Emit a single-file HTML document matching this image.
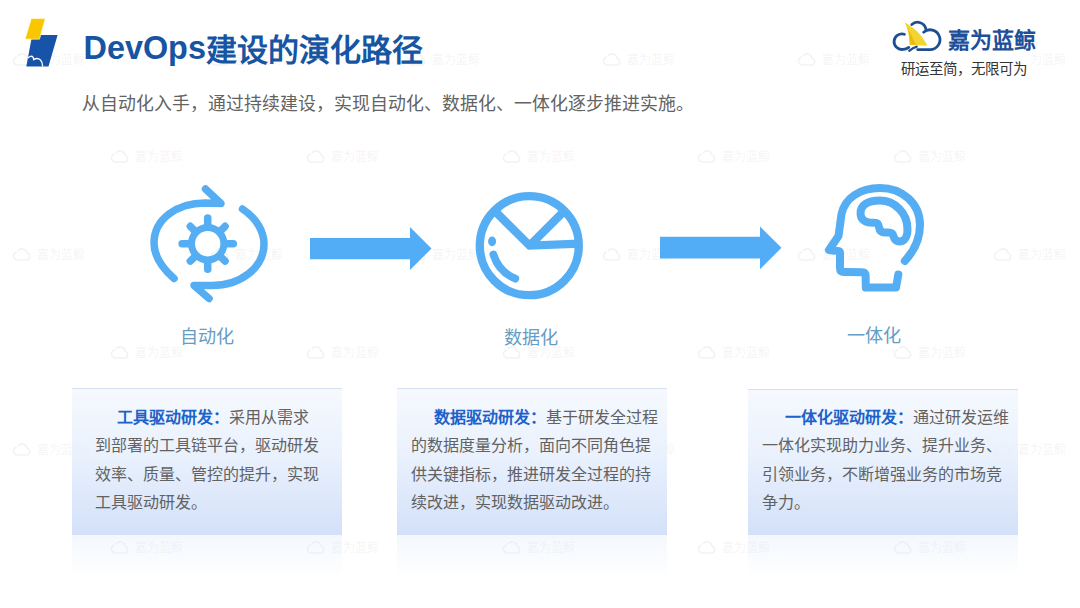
<!DOCTYPE html>
<html lang="zh-CN"><head><meta charset="utf-8">
<style>
*{margin:0;padding:0;box-sizing:border-box}
html,body{width:1080px;height:608px;overflow:hidden;background:#fff}
body{position:relative;font-family:"Liberation Sans",sans-serif}
.abs{position:absolute}
.wm{position:absolute;font-size:12px;line-height:14px;color:rgba(0,0,0,0.042);white-space:nowrap;font-weight:bold;display:flex;gap:5px;align-items:center}
.title{left:83.5px;top:28px;font-size:31px;font-weight:bold;color:#1755a3;white-space:nowrap;line-height:40px}
.sub{left:81.7px;top:92.8px;font-size:17.9px;color:#636363;white-space:nowrap;line-height:22px}
.lbl{font-size:18.1px;color:#669cc4;white-space:nowrap;line-height:20px}
.box{position:absolute;top:388px;width:270px;height:147px;border-top:1px solid rgba(215,222,230,0.45);background:linear-gradient(rgba(244,248,254,0.85),rgba(230,239,253,0.85) 45%,rgba(203,219,247,0.85))}
.box .t{position:absolute;top:15px;font-size:16px;line-height:28.3px;color:#626262;white-space:nowrap}
.box b{color:#1c62ca}
.refl{position:absolute;top:535px;width:270px;height:42px;background:linear-gradient(rgba(222,233,251,0.35),rgba(255,255,255,0))}
</style></head>
<body>
<!-- watermarks -->
<div class="wm" style="left:12px;top:52.5px"><svg width="20" height="14" viewBox="0 0 20 14"><path d="M5,4 A4,4 0 1 0 6,12 L16,12 A4,4 0 0 0 15,5 A5,5 0 0 0 6,3" fill="none" stroke="rgba(0,0,0,0.05)" stroke-width="1.6"/></svg><span>嘉为蓝鲸</span></div>
<div class="wm" style="left:210px;top:52.5px"><svg width="20" height="14" viewBox="0 0 20 14"><path d="M5,4 A4,4 0 1 0 6,12 L16,12 A4,4 0 0 0 15,5 A5,5 0 0 0 6,3" fill="none" stroke="rgba(0,0,0,0.05)" stroke-width="1.6"/></svg><span>嘉为蓝鲸</span></div>
<div class="wm" style="left:407px;top:52.5px"><svg width="20" height="14" viewBox="0 0 20 14"><path d="M5,4 A4,4 0 1 0 6,12 L16,12 A4,4 0 0 0 15,5 A5,5 0 0 0 6,3" fill="none" stroke="rgba(0,0,0,0.05)" stroke-width="1.6"/></svg><span>嘉为蓝鲸</span></div>
<div class="wm" style="left:602px;top:52.5px"><svg width="20" height="14" viewBox="0 0 20 14"><path d="M5,4 A4,4 0 1 0 6,12 L16,12 A4,4 0 0 0 15,5 A5,5 0 0 0 6,3" fill="none" stroke="rgba(0,0,0,0.05)" stroke-width="1.6"/></svg><span>嘉为蓝鲸</span></div>
<div class="wm" style="left:797px;top:52.5px"><svg width="20" height="14" viewBox="0 0 20 14"><path d="M5,4 A4,4 0 1 0 6,12 L16,12 A4,4 0 0 0 15,5 A5,5 0 0 0 6,3" fill="none" stroke="rgba(0,0,0,0.05)" stroke-width="1.6"/></svg><span>嘉为蓝鲸</span></div>
<div class="wm" style="left:993px;top:52.5px"><svg width="20" height="14" viewBox="0 0 20 14"><path d="M5,4 A4,4 0 1 0 6,12 L16,12 A4,4 0 0 0 15,5 A5,5 0 0 0 6,3" fill="none" stroke="rgba(0,0,0,0.05)" stroke-width="1.6"/></svg><span>嘉为蓝鲸</span></div>
<div class="wm" style="left:110px;top:149.5px"><svg width="20" height="14" viewBox="0 0 20 14"><path d="M5,4 A4,4 0 1 0 6,12 L16,12 A4,4 0 0 0 15,5 A5,5 0 0 0 6,3" fill="none" stroke="rgba(0,0,0,0.05)" stroke-width="1.6"/></svg><span>嘉为蓝鲸</span></div>
<div class="wm" style="left:306px;top:149.5px"><svg width="20" height="14" viewBox="0 0 20 14"><path d="M5,4 A4,4 0 1 0 6,12 L16,12 A4,4 0 0 0 15,5 A5,5 0 0 0 6,3" fill="none" stroke="rgba(0,0,0,0.05)" stroke-width="1.6"/></svg><span>嘉为蓝鲸</span></div>
<div class="wm" style="left:502px;top:149.5px"><svg width="20" height="14" viewBox="0 0 20 14"><path d="M5,4 A4,4 0 1 0 6,12 L16,12 A4,4 0 0 0 15,5 A5,5 0 0 0 6,3" fill="none" stroke="rgba(0,0,0,0.05)" stroke-width="1.6"/></svg><span>嘉为蓝鲸</span></div>
<div class="wm" style="left:697px;top:149.5px"><svg width="20" height="14" viewBox="0 0 20 14"><path d="M5,4 A4,4 0 1 0 6,12 L16,12 A4,4 0 0 0 15,5 A5,5 0 0 0 6,3" fill="none" stroke="rgba(0,0,0,0.05)" stroke-width="1.6"/></svg><span>嘉为蓝鲸</span></div>
<div class="wm" style="left:893px;top:149.5px"><svg width="20" height="14" viewBox="0 0 20 14"><path d="M5,4 A4,4 0 1 0 6,12 L16,12 A4,4 0 0 0 15,5 A5,5 0 0 0 6,3" fill="none" stroke="rgba(0,0,0,0.05)" stroke-width="1.6"/></svg><span>嘉为蓝鲸</span></div>
<div class="wm" style="left:12px;top:247.5px"><svg width="20" height="14" viewBox="0 0 20 14"><path d="M5,4 A4,4 0 1 0 6,12 L16,12 A4,4 0 0 0 15,5 A5,5 0 0 0 6,3" fill="none" stroke="rgba(0,0,0,0.05)" stroke-width="1.6"/></svg><span>嘉为蓝鲸</span></div>
<div class="wm" style="left:210px;top:247.5px"><svg width="20" height="14" viewBox="0 0 20 14"><path d="M5,4 A4,4 0 1 0 6,12 L16,12 A4,4 0 0 0 15,5 A5,5 0 0 0 6,3" fill="none" stroke="rgba(0,0,0,0.05)" stroke-width="1.6"/></svg><span>嘉为蓝鲸</span></div>
<div class="wm" style="left:407px;top:247.5px"><svg width="20" height="14" viewBox="0 0 20 14"><path d="M5,4 A4,4 0 1 0 6,12 L16,12 A4,4 0 0 0 15,5 A5,5 0 0 0 6,3" fill="none" stroke="rgba(0,0,0,0.05)" stroke-width="1.6"/></svg><span>嘉为蓝鲸</span></div>
<div class="wm" style="left:602px;top:247.5px"><svg width="20" height="14" viewBox="0 0 20 14"><path d="M5,4 A4,4 0 1 0 6,12 L16,12 A4,4 0 0 0 15,5 A5,5 0 0 0 6,3" fill="none" stroke="rgba(0,0,0,0.05)" stroke-width="1.6"/></svg><span>嘉为蓝鲸</span></div>
<div class="wm" style="left:797px;top:247.5px"><svg width="20" height="14" viewBox="0 0 20 14"><path d="M5,4 A4,4 0 1 0 6,12 L16,12 A4,4 0 0 0 15,5 A5,5 0 0 0 6,3" fill="none" stroke="rgba(0,0,0,0.05)" stroke-width="1.6"/></svg><span>嘉为蓝鲸</span></div>
<div class="wm" style="left:993px;top:247.5px"><svg width="20" height="14" viewBox="0 0 20 14"><path d="M5,4 A4,4 0 1 0 6,12 L16,12 A4,4 0 0 0 15,5 A5,5 0 0 0 6,3" fill="none" stroke="rgba(0,0,0,0.05)" stroke-width="1.6"/></svg><span>嘉为蓝鲸</span></div>
<div class="wm" style="left:110px;top:345.5px"><svg width="20" height="14" viewBox="0 0 20 14"><path d="M5,4 A4,4 0 1 0 6,12 L16,12 A4,4 0 0 0 15,5 A5,5 0 0 0 6,3" fill="none" stroke="rgba(0,0,0,0.05)" stroke-width="1.6"/></svg><span>嘉为蓝鲸</span></div>
<div class="wm" style="left:306px;top:345.5px"><svg width="20" height="14" viewBox="0 0 20 14"><path d="M5,4 A4,4 0 1 0 6,12 L16,12 A4,4 0 0 0 15,5 A5,5 0 0 0 6,3" fill="none" stroke="rgba(0,0,0,0.05)" stroke-width="1.6"/></svg><span>嘉为蓝鲸</span></div>
<div class="wm" style="left:502px;top:345.5px"><svg width="20" height="14" viewBox="0 0 20 14"><path d="M5,4 A4,4 0 1 0 6,12 L16,12 A4,4 0 0 0 15,5 A5,5 0 0 0 6,3" fill="none" stroke="rgba(0,0,0,0.05)" stroke-width="1.6"/></svg><span>嘉为蓝鲸</span></div>
<div class="wm" style="left:697px;top:345.5px"><svg width="20" height="14" viewBox="0 0 20 14"><path d="M5,4 A4,4 0 1 0 6,12 L16,12 A4,4 0 0 0 15,5 A5,5 0 0 0 6,3" fill="none" stroke="rgba(0,0,0,0.05)" stroke-width="1.6"/></svg><span>嘉为蓝鲸</span></div>
<div class="wm" style="left:893px;top:345.5px"><svg width="20" height="14" viewBox="0 0 20 14"><path d="M5,4 A4,4 0 1 0 6,12 L16,12 A4,4 0 0 0 15,5 A5,5 0 0 0 6,3" fill="none" stroke="rgba(0,0,0,0.05)" stroke-width="1.6"/></svg><span>嘉为蓝鲸</span></div>
<div class="wm" style="left:12px;top:442.5px"><svg width="20" height="14" viewBox="0 0 20 14"><path d="M5,4 A4,4 0 1 0 6,12 L16,12 A4,4 0 0 0 15,5 A5,5 0 0 0 6,3" fill="none" stroke="rgba(0,0,0,0.05)" stroke-width="1.6"/></svg><span>嘉为蓝鲸</span></div>
<div class="wm" style="left:210px;top:442.5px"><svg width="20" height="14" viewBox="0 0 20 14"><path d="M5,4 A4,4 0 1 0 6,12 L16,12 A4,4 0 0 0 15,5 A5,5 0 0 0 6,3" fill="none" stroke="rgba(0,0,0,0.05)" stroke-width="1.6"/></svg><span>嘉为蓝鲸</span></div>
<div class="wm" style="left:407px;top:442.5px"><svg width="20" height="14" viewBox="0 0 20 14"><path d="M5,4 A4,4 0 1 0 6,12 L16,12 A4,4 0 0 0 15,5 A5,5 0 0 0 6,3" fill="none" stroke="rgba(0,0,0,0.05)" stroke-width="1.6"/></svg><span>嘉为蓝鲸</span></div>
<div class="wm" style="left:602px;top:442.5px"><svg width="20" height="14" viewBox="0 0 20 14"><path d="M5,4 A4,4 0 1 0 6,12 L16,12 A4,4 0 0 0 15,5 A5,5 0 0 0 6,3" fill="none" stroke="rgba(0,0,0,0.05)" stroke-width="1.6"/></svg><span>嘉为蓝鲸</span></div>
<div class="wm" style="left:797px;top:442.5px"><svg width="20" height="14" viewBox="0 0 20 14"><path d="M5,4 A4,4 0 1 0 6,12 L16,12 A4,4 0 0 0 15,5 A5,5 0 0 0 6,3" fill="none" stroke="rgba(0,0,0,0.05)" stroke-width="1.6"/></svg><span>嘉为蓝鲸</span></div>
<div class="wm" style="left:993px;top:442.5px"><svg width="20" height="14" viewBox="0 0 20 14"><path d="M5,4 A4,4 0 1 0 6,12 L16,12 A4,4 0 0 0 15,5 A5,5 0 0 0 6,3" fill="none" stroke="rgba(0,0,0,0.05)" stroke-width="1.6"/></svg><span>嘉为蓝鲸</span></div>
<div class="wm" style="left:110px;top:540.5px"><svg width="20" height="14" viewBox="0 0 20 14"><path d="M5,4 A4,4 0 1 0 6,12 L16,12 A4,4 0 0 0 15,5 A5,5 0 0 0 6,3" fill="none" stroke="rgba(0,0,0,0.05)" stroke-width="1.6"/></svg><span>嘉为蓝鲸</span></div>
<div class="wm" style="left:306px;top:540.5px"><svg width="20" height="14" viewBox="0 0 20 14"><path d="M5,4 A4,4 0 1 0 6,12 L16,12 A4,4 0 0 0 15,5 A5,5 0 0 0 6,3" fill="none" stroke="rgba(0,0,0,0.05)" stroke-width="1.6"/></svg><span>嘉为蓝鲸</span></div>
<div class="wm" style="left:502px;top:540.5px"><svg width="20" height="14" viewBox="0 0 20 14"><path d="M5,4 A4,4 0 1 0 6,12 L16,12 A4,4 0 0 0 15,5 A5,5 0 0 0 6,3" fill="none" stroke="rgba(0,0,0,0.05)" stroke-width="1.6"/></svg><span>嘉为蓝鲸</span></div>
<div class="wm" style="left:697px;top:540.5px"><svg width="20" height="14" viewBox="0 0 20 14"><path d="M5,4 A4,4 0 1 0 6,12 L16,12 A4,4 0 0 0 15,5 A5,5 0 0 0 6,3" fill="none" stroke="rgba(0,0,0,0.05)" stroke-width="1.6"/></svg><span>嘉为蓝鲸</span></div>
<div class="wm" style="left:893px;top:540.5px"><svg width="20" height="14" viewBox="0 0 20 14"><path d="M5,4 A4,4 0 1 0 6,12 L16,12 A4,4 0 0 0 15,5 A5,5 0 0 0 6,3" fill="none" stroke="rgba(0,0,0,0.05)" stroke-width="1.6"/></svg><span>嘉为蓝鲸</span></div>
<!-- top-left logo -->
<svg class="abs" style="left:0;top:0" width="80" height="80">
  <polygon points="32.2,34.9 57.6,34.9 48.5,66.6 26.3,66.6" fill="#1754a9"/>
  <polygon points="31.3,18.6 45.3,18.6 39.5,39.2 25,39.2" fill="#f9c700" stroke="#fff" stroke-width="0.6"/>
  <path d="M27.8,58.2 C29.3,56 32,55.6 33.2,57.4 L33.7,59.6 C35.6,58.4 38.6,58.3 40.5,60 C42,61.5 42.7,64 42.7,66.6" fill="none" stroke="#fff" stroke-width="1.3"/>
</svg>
<div class="abs title"><span style="font-size:32.4px">DevOps</span><span style="position:relative;top:1.5px">建设的演化路径</span></div>
<div class="abs sub">从自动化入手，通过持续建设，实现自动化、数据化、一体化逐步推进实施。</div>

<!-- top-right logo -->
<div class="abs" style="left:886px;top:12px;width:143px;height:66px;background:#fff"></div>
<svg class="abs" style="left:888px;top:14px" width="60" height="42" viewBox="888 14 60 42">
  <path d="M904.6,22.3 C911,26 918,31 922,37 C924.5,40.5 926.2,43 927.4,45.8 L909.4,44.8 C909.3,36 907.8,28 904.6,22.3 Z" fill="#f3d531"/>
  <path d="M905.3,24.2 C909,30 912.8,37.5 915.8,45.1 L910.3,44.8 C910.2,36.5 908.5,29.5 905.3,24.2 Z" fill="#ecba0e"/>
  <g fill="none" stroke="#1d4e92" stroke-width="2.8" stroke-linecap="round">
   <path d="M904.4,34.3 A7.8,7.8 0 1 0 903,49.4 C905.5,49.4 907.3,48.6 908.8,47.4"/>
   <path d="M909.2,50.8 C911.5,48.8 914,47.3 916.8,46.6" stroke-width="2.2"/>
   <path d="M911.8,24.5 A8.5,8.5 0 0 1 925.9,29.3"/>
   <path d="M923.6,32.2 A9.9,9.9 0 1 1 929.8,49.6 L917.6,49.6"/>
  </g>
</svg>
<div class="abs" style="left:948px;top:27.5px;font-size:22px;font-weight:bold;color:#1d4f9a;white-space:nowrap;line-height:26px">嘉为蓝鲸</div>
<div class="abs" style="left:900.5px;top:60.5px;font-size:14.5px;color:#333;white-space:nowrap;line-height:16px">研运至简，无限可为</div>

<!-- icon 1: gear with cycle arrows -->
<svg class="abs" style="left:140px;top:176px" width="140" height="136" viewBox="140 176 140 136">
 <g fill="none" stroke="#55aef3" stroke-width="7.5" stroke-linecap="round" stroke-linejoin="round">
  <path d="M174,278.5 C161,267 154,255 154,243 C154,219 177,203 205,203 L221,203.5 L205.5,189"/>
  <path d="M242.5,209 C256,218 264,231 264,244 C264,268 240,285.5 212,285.5 L194,285.5 L209,298.5"/>
  <circle cx="207.7" cy="243.7" r="16.2" stroke-width="7"/>
  <path d="M226.20,243.70 L233.30,243.70 M220.78,256.78 L225.09,261.09 M207.70,262.20 L207.70,269.30 M194.62,256.78 L190.31,261.09 M189.20,243.70 L182.10,243.70 M194.62,230.62 L190.31,226.31 M207.70,225.20 L207.70,218.10 M220.78,230.62 L225.09,226.31"/>
 </g>
</svg>
<!-- icon 2: pie chart -->
<svg class="abs" style="left:470px;top:186px" width="120" height="120" viewBox="470 186 120 120">
 <g fill="none" stroke="#55aef3" stroke-width="8.3" stroke-linejoin="miter">
  <circle cx="529.3" cy="245.7" r="49.5"/>
  <path d="M492,208.2 L529.6,245.6 L580,243.7"/>
  <path d="M529.6,245.6 L566,209.2"/>
  <path d="M493.4,254.5 C497,266 504,274 515.3,278.6" stroke-width="7.8" stroke-linecap="round"/>
 </g>
 <ellipse cx="492.1" cy="241.4" rx="4" ry="4.8" fill="#55aef3"/>
</svg>
<!-- icon 3: head with brain -->
<svg class="abs" style="left:815px;top:180px" width="120" height="120" viewBox="815 180 120 120">
 <g fill="none" stroke="#55aef3" stroke-width="8" stroke-linecap="round" stroke-linejoin="round">
  <path d="M904.8,260.9 C915,250 920,238 920,225 C920,203 902,188 880,188 C860,188 845,198 841.5,214 L838.5,236 L829,250 Q832,250.6 838,250.9 Q840,251 840,253 L840,268 Q840,272 844,272 L862,272.2 Q865.6,272.2 865.6,276 L865.8,287.6 L896,287.6 L898.3,274.5"/>
  <path d="M860.6,213.7 C860,205 868,200.6 879.6,200.6 C895,200.6 907.5,213 907.5,229.5 C907.5,236.5 904.5,241.5 899.5,241.5 C896,241.5 894.2,239 893.4,236 C892.7,233.5 891.2,232.6 888.5,232.6 L885,232.6 C881.3,232.6 879.5,230.5 879.1,227.5 C878.7,224.5 877.3,222.8 874.5,222.8 L869.5,222.5 C864,222 860.6,218.5 860.6,213.7 Z" stroke-width="8"/>
 </g>
</svg>
<!-- arrows -->
<svg class="abs" style="left:300px;top:220px" width="140" height="60">
  <polygon points="10,17.9 110,17.9 110,7 131.5,28.5 110,50 110,39.3 10,39.3" fill="#53adf6"/>
</svg>
<svg class="abs" style="left:650px;top:220px" width="140" height="60">
  <polygon points="10,16.7 110,16.7 110,6.6 131.5,27.8 110,49.3 110,38.6 10,38.6" fill="#53adf6"/>
</svg>

<div class="abs lbl" style="left:180px;top:326.5px">自动化</div>
<div class="abs lbl" style="left:504.3px;top:327.5px">数据化</div>
<div class="abs lbl" style="left:847px;top:326px">一体化</div>

<div class="box" style="left:72px"><div class="t" style="left:23px"><div style="padding-left:22px"><b>工具驱动研发：</b>采用从需求</div><div>到部署的工具链平台，驱动研发</div><div>效率、质量、管控的提升，实现</div><div>工具驱动研发。</div></div></div>
<div class="refl" style="left:72px"></div>
<div class="box" style="left:397px"><div class="t" style="left:14px"><div style="padding-left:23px"><b>数据驱动研发：</b>基于研发全过程</div><div>的数据度量分析，面向不同角色提</div><div>供关键指标，推进研发全过程的持</div><div>续改进，实现数据驱动改进。</div></div></div>
<div class="refl" style="left:397px"></div>
<div class="box" style="left:748px;top:389px;height:146px"><div class="t" style="left:14px;top:14px"><div style="padding-left:22.5px"><b>一体化驱动研发：</b>通过研发运维</div><div>一体化实现助力业务、提升业务、</div><div>引领业务，不断增强业务的市场竞</div><div>争力。</div></div></div>
<div class="refl" style="left:748px"></div>
</body></html>
